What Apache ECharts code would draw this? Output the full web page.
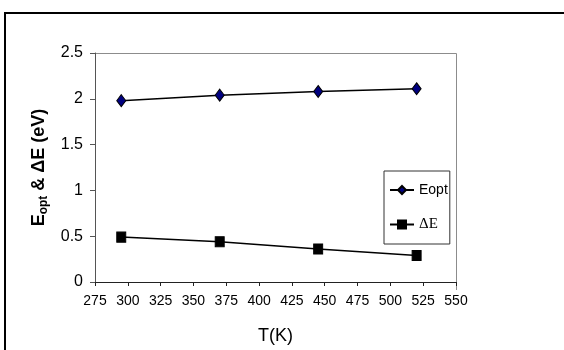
<!DOCTYPE html>
<html>
<head>
<meta charset="utf-8">
<script src="https://cdn.jsdelivr.net/npm/echarts@6/dist/echarts.min.js"></script>
<style>
html,body{margin:0;padding:0;background:#fff;}
#c{width:564px;height:350px;}
</style>
</head>
<body>
<div id="c"></div>
<script>
const temperatures = [295, 370, 445, 520];
const eoptValues = [1.98, 2.04, 2.08, 2.11];
const deltaEValues = [0.49, 0.44, 0.36, 0.29];
const xTicks = [275, 300, 325, 350, 375, 400, 425, 450, 475, 500, 525, 550];
const yTicks = [0, 0.5, 1, 1.5, 2, 2.5];
const seriesNames = ['Eopt', 'ΔE'];

const narrow = '"Liberation Sans Narrow", "Arial Narrow", "Liberation Sans", Arial, sans-serif';
const chart = echarts.init(document.getElementById('c'), null, {renderer: 'canvas'});

chart.setOption({
  animation: false,
  backgroundColor: '#fff',
  graphic: [{
    type: 'rect',
    shape: {x: 5, y: 13, width: 620, height: 420},
    style: {fill: 'none', stroke: '#000', lineWidth: 2},
    silent: true
  }, {
    type: 'line',
    shape: {x1: 95, y1: 53.5, x2: 456.5, y2: 53.5},
    style: {stroke: '#8c8c8c', lineWidth: 1}
  }, {
    type: 'line',
    shape: {x1: 456.5, y1: 53.5, x2: 456.5, y2: 290},
    style: {stroke: '#8c8c8c', lineWidth: 1}
  }],
  grid: {left: 95, right: 108, top: 53, bottom: 60, containLabel: false},
  legend: {
    orient: 'vertical',
    left: 384,
    top: 171,
    data: seriesNames,
    backgroundColor: '#fff',
    borderColor: '#333',
    borderWidth: 1,
    borderRadius: 0,
    padding: [12, 2, 12, 5],
    itemWidth: 24,
    itemHeight: 10,
    itemGap: 20,
    formatter: function (n) { return n === 'ΔE' ? '{t|' + n + '}' : '{a|' + n + '}'; },
    textStyle: {
      color: '#000',
      rich: {
        a: {fontFamily: narrow, fontSize: 14, color: '#000'},
        t: {fontFamily: '"Liberation Serif", "Times New Roman", serif', fontSize: 15, color: '#000'}
      }
    }
  },
  xAxis: {
    type: 'value',
    min: xTicks[0],
    max: xTicks[xTicks.length - 1],
    interval: xTicks[1] - xTicks[0],
    name: 'T(K)',
    nameLocation: 'middle',
    nameGap: 45,
    nameTextStyle: {fontFamily: narrow, fontSize: 18, color: '#000'},
    axisLine: {lineStyle: {color: '#222', width: 1}},
    axisTick: {show: true, inside: false, length: 4, lineStyle: {color: '#222'}},
    axisLabel: {fontFamily: narrow, fontSize: 14, color: '#000', margin: 12},
    splitLine: {show: false}
  },
  yAxis: {
    type: 'value',
    min: yTicks[0],
    max: yTicks[yTicks.length - 1],
    interval: yTicks[1] - yTicks[0],
    name: '{b|E}{s|opt}{b| & ΔE (eV)}',
    nameLocation: 'middle',
    nameRotate: 90,
    nameGap: 44,
    nameTextStyle: {
      rich: {
        b: {fontFamily: '"Liberation Sans", Arial, sans-serif', fontWeight: 'bold', fontSize: 18, color: '#000'},
        s: {fontFamily: '"Liberation Sans", Arial, sans-serif', fontWeight: 'bold', fontSize: 12, color: '#000', padding: [9, 0, 0, 0]}
      }
    },
    axisLine: {show: true, lineStyle: {color: '#555', width: 1}},
    axisTick: {show: true, inside: false, length: 5, lineStyle: {color: '#555'}},
    axisLabel: {fontFamily: narrow, fontSize: 16, color: '#000', margin: 12},
    splitLine: {show: false}
  },
  series: [{
    name: seriesNames[0],
    type: 'line',
    data: temperatures.map((t, i) => [t, eoptValues[i]]),
    symbol: 'diamond',
    symbolSize: [9, 12],
    lineStyle: {color: '#000', width: 1.5},
    itemStyle: {color: '#000080', borderColor: '#000', borderWidth: 1}
  }, {
    name: seriesNames[1],
    type: 'line',
    data: temperatures.map((t, i) => [t, deltaEValues[i]]),
    symbol: 'rect',
    symbolSize: [9, 10],
    lineStyle: {color: '#000', width: 1.5},
    itemStyle: {color: '#000', borderColor: '#000', borderWidth: 1}
  }]
});
</script>
</body>
</html>
